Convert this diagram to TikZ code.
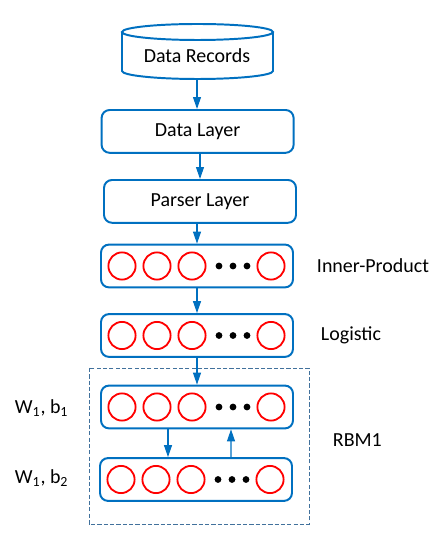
\documentclass[tikz,border=0pt]{standalone}
\usepackage{fontspec}
\setmainfont{Carlito}
\usetikzlibrary{arrows.meta}

\definecolor{boxblue}{RGB}{0,112,192}
\definecolor{dashblue}{RGB}{65,113,156}

\begin{document}
\begin{tikzpicture}[font=\fontsize{14.2}{17}\selectfont]
\tikzstyle{capa}=[draw=boxblue,line width=1.4pt,rounded corners=0.2cm,minimum width=4.8cm,minimum height=1.07cm]
\tikzstyle{neurona}=[circle,draw=red,line width=1.3pt,minimum size=0.68cm,inner sep=0pt]
\tikzstyle{punto}=[circle,fill=black,minimum size=0.17cm,inner sep=0pt]
\tikzstyle{flecha}=[draw=boxblue,line width=0.8pt,-{Triangle[length=0.3cm,width=0.2cm]}]

\useasboundingbox (0,0) rectangle (10.75,13.825);

% cilindro de registros
\draw[draw=boxblue,line width=1.4pt] (3.05,13.025) -- (3.05,12.05) arc[start angle=180,end angle=360,x radius=1.8875,y radius=0.2] -- (6.825,13.025);
\draw[draw=boxblue,line width=1.4pt] (4.9375,13.025) ellipse [x radius=1.8875,y radius=0.2];
\node (rec) at (4.925,12.425) {Data Records};
\coordinate (recb) at (4.925,11.85);

\node[capa] (dl) at (4.94,10.54) {Data Layer};
\node[capa] (pl) at (5.0,8.79) {Parser Layer};
\node[capa] (ip) at (4.925,7.175) {};
\node[capa] (lg) at (4.925,5.4375) {};
\node[capa] (h1) at (4.925,3.65) {};
\node[capa] (v1) at (4.9,1.8375) {};

\foreach \b in {ip,lg,h1,v1} {
  \foreach \dx [count=\i] in {-1.875,-1.0,-0.125,1.85}
    \node[neurona] (\b c\i) at ([xshift=\dx cm]\b.center) {};
  \foreach \dx [count=\i] in {0.55,0.9,1.25}
    \node[punto] (\b d\i) at ([xshift=\dx cm]\b.center) {};
}

% caja RBM
\draw[draw=dashblue,line width=0.6pt,dash pattern=on 3pt off 1.5pt] (2.225,4.625) rectangle (7.725,0.725);

\node[anchor=west] (tip) at (7.8,7.175) {Inner-Product};
\node[anchor=west] (tlg) at (7.9,5.4375) {Logistic};
\node[anchor=west] (trbm) at (8.2,2.825) {RBM1};
\node[anchor=west] (th1) at (0.25,3.625) {W\textsubscript{1}, b\textsubscript{1}};
\node[anchor=west] (tv1) at (0.25,1.875) {W\textsubscript{1}, b\textsubscript{2}};

\draw[flecha] (recb) -- (recb |- dl.north);
\draw[flecha] (pl.north |- dl.south) -- (pl.north);
\draw[flecha] (pl.south -| ip.north) -- (ip.north);
\draw[flecha] (ip.south) -- (lg.north);
\draw[flecha] (lg.south) -- (h1.north);
\draw[flecha] ([xshift=-0.725cm]h1.south) -- ([xshift=-0.7cm]v1.north);
\draw[flecha] ([xshift=0.875cm]v1.north) -- ([xshift=0.85cm]h1.south);
\end{tikzpicture}
\end{document}
